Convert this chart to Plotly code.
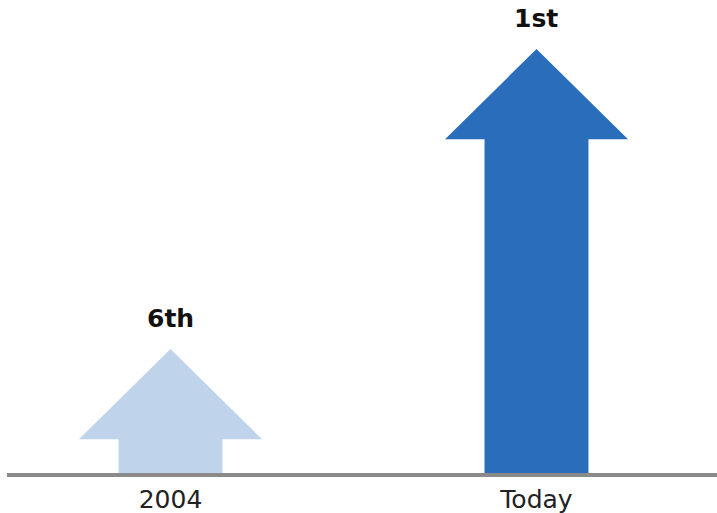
import plotly.graph_objects as go

# Ranking chart: arrow height shows relative standing
categories = ["2004", "Today"]
rank_labels = ["6th", "1st"]
heights = [29.6, 100]
colors = ["#bfd3ea", "#2a6dba"]

# arrow geometry in data units
HEAD_W = 0.5
SHAFT_W = 0.284
HEAD_H = 21.2

fig = go.Figure()

for i, (cat, h, col) in enumerate(zip(categories, heights, colors)):
    x0 = i
    base = h - HEAD_H
    xs = [x0 - SHAFT_W / 2, x0 - SHAFT_W / 2, x0 - HEAD_W / 2, x0,
          x0 + HEAD_W / 2, x0 + SHAFT_W / 2, x0 + SHAFT_W / 2, x0 - SHAFT_W / 2]
    ys = [0, base, base, h, base, base, 0, 0]
    fig.add_trace(go.Scatter(
        x=xs, y=ys, mode="lines", fill="toself", fillcolor=col,
        line=dict(width=0, color=col), hoverinfo="skip", showlegend=False,
    ))

for i, (lab, h) in enumerate(zip(rank_labels, heights)):
    fig.add_annotation(
        x=i, y=h, text=f"<b>{lab}</b>", showarrow=False,
        yanchor="bottom", yshift=14,
        font=dict(family="DejaVu Sans", size=25, color="#111111"),
    )

# baseline
fig.add_shape(type="line", xref="paper", yref="y", x0=0, x1=1, y0=0, y1=0,
              line=dict(color="#8a8a8a", width=4), layer="above")

fig.update_layout(
    width=717, height=513,
    margin=dict(l=7, r=0, t=0, b=35),
    paper_bgcolor="white", plot_bgcolor="white",
    xaxis=dict(range=[-0.4467, 1.4932], tickvals=[0, 1], ticktext=categories,
               showgrid=False, zeroline=False, showline=False, ticks="",
               ticklabelstandoff=4,
               tickfont=dict(family="DejaVu Sans", size=25, color="#222222"),
               fixedrange=True),
    yaxis=dict(range=[-0.7, 111.5], visible=False, fixedrange=True),
)

fig.write_html("out.html")
